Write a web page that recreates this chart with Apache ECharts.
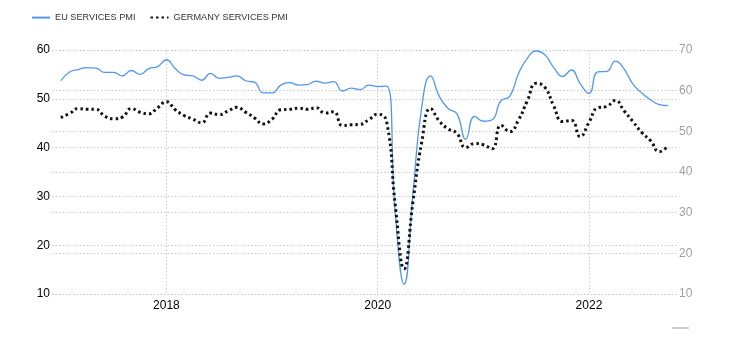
<!DOCTYPE html>
<html>
<head>
<meta charset="utf-8">
<script src="https://cdn.jsdelivr.net/npm/echarts@6/dist/echarts.min.js"></script>
<style>
  html, body { margin: 0; padding: 0; background: #fff; }
  #chart { width: 730px; height: 340px; }
</style>
</head>
<body>
<div id="chart"></div>
<script>
// Monthly readings, Jan 2017 – Oct 2022
const months = [
  '2017-01','2017-02','2017-03','2017-04','2017-05','2017-06','2017-07','2017-08','2017-09','2017-10','2017-11','2017-12',
  '2018-01','2018-02','2018-03','2018-04','2018-05','2018-06','2018-07','2018-08','2018-09','2018-10','2018-11','2018-12',
  '2019-01','2019-02','2019-03','2019-04','2019-05','2019-06','2019-07','2019-08','2019-09','2019-10','2019-11','2019-12',
  '2020-01','2020-02','2020-03','2020-04','2020-05','2020-06','2020-07','2020-08','2020-09','2020-10','2020-11','2020-12',
  '2021-01','2021-02','2021-03','2021-04','2021-05','2021-06','2021-07','2021-08','2021-09','2021-10','2021-11','2021-12',
  '2022-01','2022-02','2022-03','2022-04','2022-05','2022-06','2022-07','2022-08','2022-09','2022-10'
];

const euServicesPmi = [
  53.7, 55.5, 56.0, 56.4, 56.3, 55.4, 55.4, 54.7, 55.8, 55.0, 56.2, 56.6,
  58.0, 56.2, 54.9, 54.7, 53.8, 55.2, 54.2, 54.4, 54.7, 53.7, 53.4, 51.2,
  51.2, 52.8, 53.3, 52.8, 52.9, 53.6, 53.2, 53.5, 51.6, 52.2, 51.9, 52.8,
  52.5, 52.6, 26.4, 12.0, 30.5, 48.3, 54.7, 50.5, 48.0, 46.9, 41.7, 46.4,
  45.4, 45.7, 49.6, 50.5, 55.2, 58.3, 59.8, 59.0, 56.4, 54.6, 55.9, 53.1,
  51.1, 55.5, 55.6, 57.7, 56.1, 53.0, 51.2, 49.8, 48.8, 48.6
];

const germanyServicesPmi = [
  53.4, 54.4, 55.6, 55.4, 55.4, 53.7, 53.1, 53.5, 55.6, 54.7, 54.3, 55.8,
  57.3, 55.3, 53.9, 53.0, 52.1, 54.5, 54.1, 55.0, 55.9, 54.7, 53.3, 51.8,
  53.0, 55.3, 55.4, 55.7, 55.4, 55.8, 54.5, 54.8, 51.4, 51.6, 51.7, 52.9,
  54.2, 52.5, 31.7, 16.2, 32.6, 47.3, 55.6, 52.5, 50.6, 49.5, 46.0, 47.0,
  46.7, 45.7, 51.5, 49.9, 52.8, 57.5, 61.8, 60.8, 56.2, 52.4, 52.7, 48.7,
  52.2, 55.8, 56.1, 57.6, 55.0, 52.4, 49.7, 47.7, 45.0, 46.5
];

// Year marks along the bottom, value-axis ticks on each side
const yearLabels = [2018, 2020, 2022];
const leftTicks = [10, 20, 30, 40, 50, 60];
const rightTicks = [10, 20, 30, 40, 50, 60, 70];

// Month string -> fractional year (Jan = whole year)
const toYear = s => {
  const [y, m] = s.split('-').map(Number);
  return y + (m - 1) / 12;
};

const euData = months.map((m, i) => [toYear(m), euServicesPmi[i]]);
const deData = months.map((m, i) => [toYear(m), germanyServicesPmi[i]]);

const gridLine = { show: true, lineStyle: { color: '#cbcbcb', type: [1.5, 2], width: 1 } };
const fontFamily = '"Liberation Sans", Arial, sans-serif';
const euColor = '#5096f2';

const chart = echarts.init(document.getElementById('chart'), null, { renderer: 'canvas' });
chart.setOption({
  animation: false,
  backgroundColor: '#ffffff',
  textStyle: { fontFamily },
  legend: {
    left: 26,
    top: 7,
    itemWidth: 18,
    itemHeight: 14,
    itemGap: 14,
    itemStyle: { opacity: 0 },
    textStyle: { fontSize: 9.2, color: '#333', fontFamily },
    data: ['EU SERVICES PMI', 'GERMANY SERVICES PMI']
  },
  grid: { left: 52, right: 53, top: 50, bottom: 46 },
  xAxis: {
    type: 'value',
    min: toYear('2016-12'),
    max: toYear('2022-11'),
    axisLine: { show: false },
    axisTick: { show: false, customValues: yearLabels },
    axisLabel: {
      customValues: yearLabels,
      formatter: v => String(Math.round(v)),
      color: '#000',
      fontSize: 12,
      margin: 6,
      fontFamily
    },
    splitLine: gridLine
  },
  yAxis: [
    {
      type: 'value',
      position: 'left',
      min: leftTicks[0],
      max: leftTicks[leftTicks.length - 1],
      interval: 10,
      axisLine: { show: false },
      axisTick: { show: false },
      axisLabel: { color: '#000', fontSize: 12, margin: 2, fontFamily },
      splitLine: gridLine
    },
    {
      type: 'value',
      position: 'right',
      min: rightTicks[0],
      max: rightTicks[rightTicks.length - 1],
      interval: 10,
      axisLine: { show: false },
      axisTick: { show: false },
      axisLabel: { color: '#a0a0a0', fontSize: 12, margin: 2, fontFamily },
      splitLine: gridLine
    }
  ],
  series: [
    {
      name: 'EU SERVICES PMI',
      type: 'line',
      yAxisIndex: 0,
      data: euData,
      smooth: 0.5,
      showSymbol: false,
      symbol: 'none',
      itemStyle: { color: euColor },
      lineStyle: { color: euColor, width: 1.3 },
      z: 3
    },
    {
      name: 'GERMANY SERVICES PMI',
      type: 'line',
      yAxisIndex: 1,
      data: deData,
      smooth: 0.5,
      showSymbol: false,
      symbol: 'none',
      itemStyle: { color: '#111' },
      lineStyle: { color: '#111', width: 3, type: [2.5, 3] },
      z: 4
    }
  ],
  graphic: [
    {
      type: 'line',
      shape: { x1: 672, y1: 328, x2: 689, y2: 328 },
      style: { stroke: '#999', lineWidth: 1 }
    }
  ]
});
</script>
</body>
</html>
